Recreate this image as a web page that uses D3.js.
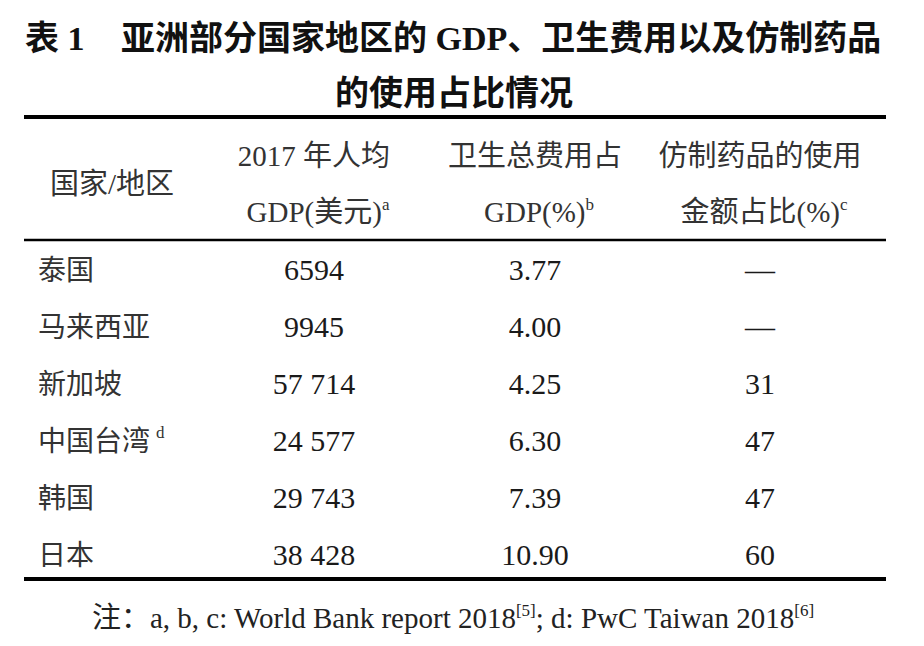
<!DOCTYPE html>
<meta charset='utf-8'>
<title>表1</title>
<style>
  body { margin: 0; background: #fff; }
  svg { display: block; }
  text { font-family: 'Liberation Serif', 'Noto Sans CJK SC', serif; fill: #1a1a1a; }
  .title { font-family: 'Liberation Serif', 'Noto Sans CJK SC', sans-serif; font-weight: bold; font-size: 34px; fill: #111; }
  .head { font-size: 29px; fill: #333; }
  .cell { font-size: 30px; }
  .label { font-size: 28px; fill: #333; }
  .note { font-size: 29px; fill: #222; }
</style>
<body>
<script src='https://cdn.jsdelivr.net/npm/d3@7'></script>
<script>

  var regions = ['泰国', '马来西亚', '新加坡', '中国台湾', '韩国', '日本']
  var regionNotes = ['', '', '', 'd', '', '']
  var gdpPerCapita = [6594, 9945, 57714, 24577, 29743, 38428]
  var healthPct = [3.77, 4.00, 4.25, 6.30, 7.39, 10.90]
  var genericPct = [null, null, 31, 47, 47, 60]

  var columns = ['region', 'gdp', 'health', 'generic']
  var headLine1 = ['', '2017 年人均', '卫生总费用占', '仿制药品的使用']
  var headLine2 = ['', 'GDP(美元)', 'GDP(%)', '金额占比(%)']
  var headSup = ['', 'a', 'b', 'c']

  var width = 924, height = 646

  var svg = d3.select('body').append('svg')
    .attr('width', width)
    .attr('height', height)

  var x = d3.scaleOrdinal().domain(columns).range([38, 314, 535, 760])
  var y = d3.scaleBand().domain(regions).range([242, 583])

  var spaced = d3.formatLocale({ decimal: '.', thousands: ' ', grouping: [3], currency: ['', ''] }).format(',')
  function fmtGdp(n) { return n >= 10000 ? spaced(n) : String(n) }

  /* ------- TITLE -------*/
  svg.append('text').attr('class', 'title')
    .attr('x', 25).attr('y', 50)
    .text('表 1')
  svg.append('text').attr('class', 'title')
    .attr('x', 121).attr('y', 50)
    .text('亚洲部分国家地区的 GDP、卫生费用以及仿制药品')
  svg.append('text').attr('class', 'title')
    .attr('x', 454).attr('y', 105)
    .attr('text-anchor', 'middle')
    .text('的使用占比情况')

  /* ------- RULES -------*/
  var rules = [{ y: 117, w: 4 }, { y: 240, w: 2.5 }, { y: 579, w: 4 }]
  svg.selectAll('line.rule').data(rules).enter()
    .append('line')
    .attr('class', 'rule')
    .attr('x1', 24).attr('x2', 886)
    .attr('y1', function(d) { return d.y })
    .attr('y2', function(d) { return d.y })
    .attr('stroke', '#000')
    .attr('stroke-width', function(d) { return d.w })

  /* ------- HEADER -------*/
  svg.append('text').attr('class', 'head')
    .attr('x', 50).attr('y', 194)
    .text('国家/地区')

  var heads = columns.slice(1)
  svg.selectAll('text.h1').data(heads).enter()
    .append('text')
    .attr('class', 'head h1')
    .attr('x', function(d) { return x(d) })
    .attr('y', 166)
    .attr('text-anchor', 'middle')
    .text(function(d, i) { return headLine1[i + 1] })

  var h2 = svg.selectAll('text.h2').data(heads).enter()
    .append('text')
    .attr('class', 'head h2')
    .attr('x', function(d) { return x(d) + 4 })
    .attr('y', 222)
    .attr('text-anchor', 'middle')
  h2.append('tspan').text(function(d, i) { return headLine2[i + 1] })
  h2.append('tspan')
    .attr('dy', -12)
    .style('font-size', '17px')
    .text(function(d, i) { return headSup[i + 1] })

  /* ------- ROWS -------*/
  var rows = svg.selectAll('g.row').data(regions).enter()
    .append('g')
    .attr('class', 'row')
    .attr('transform', function(d) { return 'translate(0,' + (y(d) + y.bandwidth() / 2 + 10) + ')' })

  var lab = rows.append('text')
    .attr('class', 'label')
    .attr('x', x('region'))
  lab.append('tspan').text(function(d) { return d })
  lab.append('tspan')
    .attr('dx', 6).attr('dy', -13)
    .style('font-size', '17px')
    .text(function(d, i) { return regionNotes[i] })

  rows.append('text')
    .attr('class', 'cell')
    .attr('x', x('gdp'))
    .attr('text-anchor', 'middle')
    .text(function(d, i) { return fmtGdp(gdpPerCapita[i]) })

  rows.append('text')
    .attr('class', 'cell')
    .attr('x', x('health'))
    .attr('text-anchor', 'middle')
    .text(function(d, i) { return healthPct[i].toFixed(2) })

  rows.append('text')
    .attr('class', 'cell')
    .attr('x', x('generic'))
    .attr('text-anchor', 'middle')
    .text(function(d, i) { return genericPct[i] == null ? '—' : genericPct[i] })

  /* ------- NOTE -------*/
  var note = svg.append('text').attr('class', 'note')
    .attr('x', 453).attr('y', 628)
    .attr('text-anchor', 'middle')
  note.append('tspan').text('注：a, b, c: World Bank report 2018')
  note.append('tspan').attr('dy', -12).style('font-size', '17px').text('[5]')
  note.append('tspan').attr('dy', 12).text('; d: PwC Taiwan 2018')
  note.append('tspan').attr('dy', -12).style('font-size', '17px').text('[6]')

</script>
</body>
